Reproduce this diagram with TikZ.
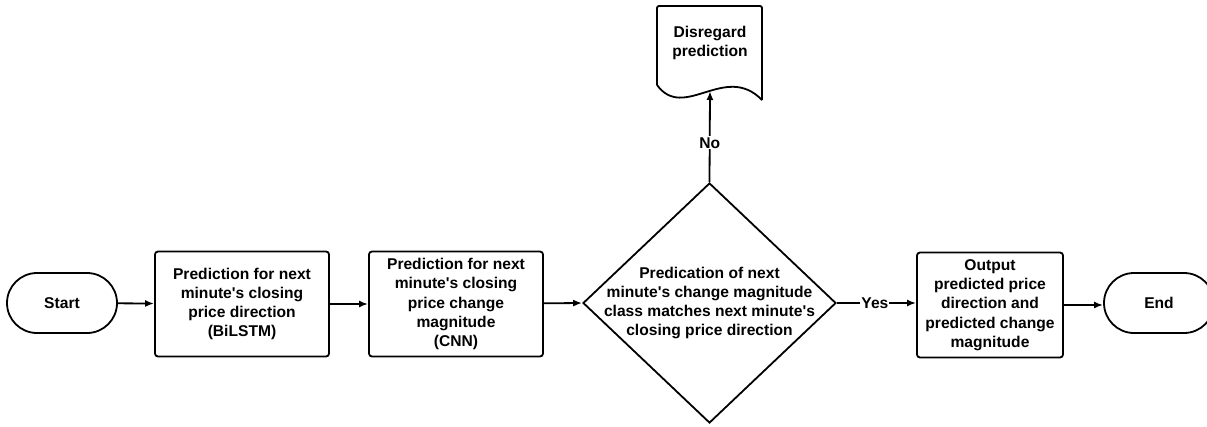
\documentclass[tikz,border=0pt]{standalone}
\usepackage{fontspec}
\setmainfont{Liberation Sans}
\usetikzlibrary{shapes.geometric,shapes.misc,arrows.meta}

\newcommand{\apos}{\textquotesingle}

\tikzset{
  flowtext/.style={font=\fontsize{15.6}{19.3}\selectfont\bfseries, align=center},
  terminal/.style={flowtext, draw, line width=1.8pt, rounded rectangle, minimum width=110pt, minimum height=60pt, inner sep=0pt},
  process/.style={flowtext, draw, line width=1.8pt, rectangle, rounded corners=3pt, minimum height=105pt, inner sep=0pt},
  decision/.style={draw, line width=1.8pt, diamond, minimum width=253pt, minimum height=240pt, inner sep=0pt},
  flow/.style={line width=1.8pt, -{Latex[length=9pt,width=7pt]}},
  edgelabel/.style={flowtext, fill=white, inner sep=1pt}
}

\begin{document}
\begin{tikzpicture}[x=1pt, y=-1pt]
            \useasboundingbox (0,0) rectangle (1207,426);

            % Start and first predictions
            \node[terminal] (start) at (62,303) {Start};
            \node[process, minimum width=174pt] (bilstm) at (242,304) {Prediction for next\\minute\apos s closing\\price direction\\(BiLSTM)};
            \node[process, minimum width=174pt] (cnn) at (456,304) {Prediction for next\\minute\apos s closing\\price change\\magnitude\\(CNN)};

            % Decision
            \node[decision] (match) at (709.5,303) {};
            \node[flowtext] (matchtext) at (match.center) {Predication of next\\minute\apos s change magnitude\\class matches next minute\apos s\\closing price direction};

            % Disregard document (wavy bottom)
            \draw[line width=1.8pt, rounded corners=2pt] (657,85) -- (657,6) -- (762,6) -- (762,100);
            \draw[line width=1.8pt] (762,100) .. controls (725,62) and (684,122) .. (657,85);
            \node[flowtext] (disregard) at (710,43) {Disregard\\prediction};
            \coordinate (dtip) at (710,91);

            % Output and end
            \node[process, minimum width=146pt] (output) at (990,305) {Output\\predicted price\\direction and\\predicted change\\magnitude};
            \node[terminal] (finish) at (1159,303) {End};

            % Connectors
            \draw[flow] (start) -- (bilstm);
            \draw[flow] (bilstm) -- (cnn);
            \draw[flow] (cnn) -- (match.west);
            \draw[flow] (match.east) -- node[edgelabel, pos=0.48] (yes) {Yes} (match.east -| output.west);
            \draw[flow] (output) -- (output -| finish.west);
            \draw[flow] (match.north) -- node[edgelabel, pos=0.43] (no) {No} (dtip);
        \end{tikzpicture}
\end{document}
